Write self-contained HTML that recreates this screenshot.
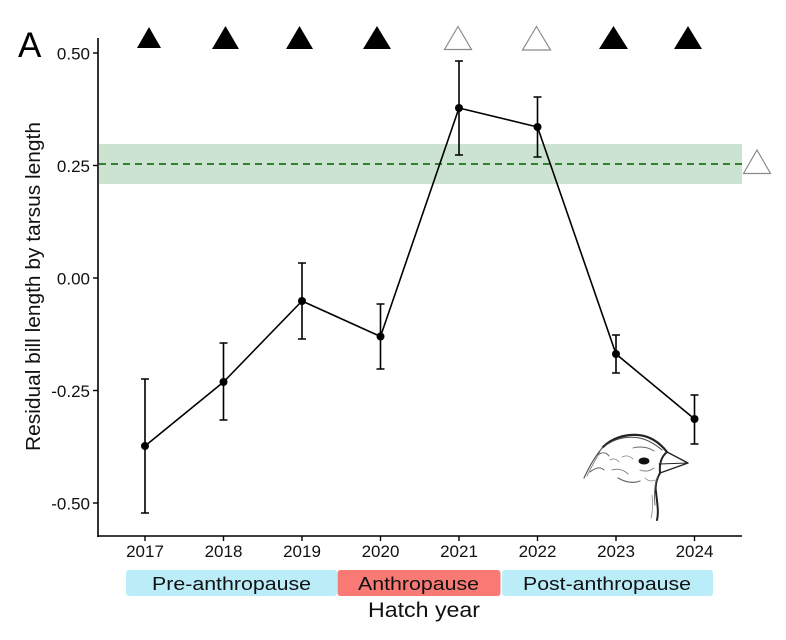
<!DOCTYPE html>
<html>
<head>
<meta charset="utf-8">
<style>
  html,body{margin:0;padding:0;background:#fff;}
  svg{display:block;}
  text{font-family:"Liberation Sans", Arial, sans-serif;}
</style>
</head>
<body>
<svg width="786" height="640" viewBox="0 0 786 640" xmlns="http://www.w3.org/2000/svg">
  <rect width="786" height="640" fill="#fff"/>

  <!-- Panel label -->
  <text x="18" y="57" font-size="35" fill="#000">A</text>

  <!-- Green reference band -->
  <rect x="99" y="144" width="643" height="40" fill="#cce3d1"/>
  <line x1="99" y1="164" x2="742" y2="164" stroke="#005f00" stroke-width="1.5" stroke-dasharray="7,5"/>

  <!-- Axes -->
  <line x1="98" y1="38" x2="98" y2="537" stroke="#000" stroke-width="1.6"/>
  <line x1="97.2" y1="536" x2="742" y2="536" stroke="#000" stroke-width="1.6"/>

  <!-- Y ticks -->
  <g stroke="#000" stroke-width="1.4">
    <line x1="93" y1="53" x2="98" y2="53"/>
    <line x1="93" y1="165.5" x2="98" y2="165.5"/>
    <line x1="93" y1="278" x2="98" y2="278"/>
    <line x1="93" y1="390.5" x2="98" y2="390.5"/>
    <line x1="93" y1="503" x2="98" y2="503"/>
  </g>
  <g font-size="17" fill="#111" text-anchor="end">
    <text x="90" y="59.5">0.50</text>
    <text x="90" y="172">0.25</text>
    <text x="90" y="284.5">0.00</text>
    <text x="90" y="397">-0.25</text>
    <text x="90" y="509.5">-0.50</text>
  </g>

  <!-- X ticks -->
  <g stroke="#000" stroke-width="1.4">
    <line x1="145" y1="536" x2="145" y2="541"/>
    <line x1="223.5" y1="536" x2="223.5" y2="541"/>
    <line x1="302" y1="536" x2="302" y2="541"/>
    <line x1="380.5" y1="536" x2="380.5" y2="541"/>
    <line x1="459" y1="536" x2="459" y2="541"/>
    <line x1="537.5" y1="536" x2="537.5" y2="541"/>
    <line x1="616" y1="536" x2="616" y2="541"/>
    <line x1="694.5" y1="536" x2="694.5" y2="541"/>
  </g>
  <g font-size="17" fill="#111" text-anchor="middle">
    <text x="145" y="557">2017</text>
    <text x="223.5" y="557">2018</text>
    <text x="302" y="557">2019</text>
    <text x="380.5" y="557">2020</text>
    <text x="459" y="557">2021</text>
    <text x="537.5" y="557">2022</text>
    <text x="616" y="557">2023</text>
    <text x="694.5" y="557">2024</text>
  </g>

  <!-- Y axis title -->
  <text transform="translate(40,286.5) rotate(-90)" font-size="20.5" fill="#111" text-anchor="middle" textLength="329" lengthAdjust="spacingAndGlyphs">Residual bill length by tarsus length</text>

  <!-- Error bars -->
  <g stroke="#000" stroke-width="1.6" fill="none">
    <path d="M145 379V513M141 379H149M141 513H149"/>
    <path d="M223.5 343V420M219.5 343H227.5M219.5 420H227.5"/>
    <path d="M302 263V339M298 263H306M298 339H306"/>
    <path d="M380.5 304V369M376.5 304H384.5M376.5 369H384.5"/>
    <path d="M459 61V155M455 61H463M455 155H463"/>
    <path d="M537.5 97V157M533.5 97H541.5M533.5 157H541.5"/>
    <path d="M616 335V373M612 335H620M612 373H620"/>
    <path d="M694.5 395V444M690.5 395H698.5M690.5 444H698.5"/>
  </g>

  <!-- Line -->
  <polyline points="145,446 223.5,382 302,301 380.5,336.5 459,108 537.5,127 616,354 694.5,419" fill="none" stroke="#000" stroke-width="1.6" stroke-linejoin="round"/>
  <g fill="#000">
    <circle cx="145" cy="446" r="4"/>
    <circle cx="223.5" cy="382" r="4"/>
    <circle cx="302" cy="301" r="4"/>
    <circle cx="380.5" cy="336.5" r="4"/>
    <circle cx="459" cy="108" r="4"/>
    <circle cx="537.5" cy="127" r="4"/>
    <circle cx="616" cy="354" r="4"/>
    <circle cx="694.5" cy="419" r="4"/>
  </g>

  <!-- Top triangles -->
  <g fill="#000">
    <polygon points="149,27 161,48 137,48"/>
    <polygon points="225.5,26 239,49 212,49"/>
    <polygon points="299.5,26 313,49 286,49"/>
    <polygon points="377,26 391,49 363,49"/>
    <polygon points="613.5,26 628,49 599,49"/>
    <polygon points="688,26 702,49 674,49"/>
  </g>
  <g fill="#fff" stroke="#8a8a8a" stroke-width="1.2">
    <polygon points="458,26.5 471.5,49.5 444.5,49.5"/>
    <polygon points="536.5,26.5 550.5,50 522.5,50"/>
    <polygon points="757,150 770.5,173.5 743.5,173.5"/>
  </g>

  <!-- Bird sketch -->
  <g fill="none" stroke="#222" stroke-linecap="round" stroke-linejoin="round">
    <path d="M603 447 C612 438 625 434 638 435 C650 436 660 443 667 452" stroke-width="2.2"/>
    <path d="M605 446 C614 439 624 436.5 636 437.5 C646 438.5 655 444 662 450" stroke-width="1" stroke="#444"/>
    <path d="M667 452 L688 463 L660 473" stroke-width="1.4"/>
    <path d="M659 464 L688 463" stroke-width="1"/>
    <path d="M667 452 C662 456 659 462 660 473" stroke-width="2"/>
    <path d="M660 473 C656 480 655 486 656 492 C657 502 659 512 657 520" stroke-width="2"/>
    <path d="M658 476 C654 485 654 495 655 505" stroke-width="0.9" stroke="#555"/>
    <path d="M603 447 C596 455 590 465 584 478" stroke-width="1.2" stroke="#555"/>
    <path d="M600 452 C595 460 591 468 587 476" stroke-width="0.8" stroke="#777"/>
    <path d="M598 455 C602 452 606 452 609 456" stroke-width="1" stroke="#666"/>
    <path d="M590 472 C595 468 600 466 604 470" stroke-width="1" stroke="#666"/>
    <path d="M618 478 C625 482 632 484 640 481" stroke-width="1.2" stroke="#666"/>
    <path d="M612 470 C618 468 624 470 628 474" stroke-width="0.9" stroke="#777"/>
    <path d="M633 448 C640 446 648 447 654 451" stroke-width="0.9" stroke="#666"/>
    <path d="M640 470 C645 472 650 471 654 468" stroke-width="0.9" stroke="#777"/>
    <path d="M622 457 C626 455 630 456 633 459" stroke-width="0.8" stroke="#888"/>
    <path d="M610 460 C613 458 617 459 619 462" stroke-width="0.8" stroke="#888"/>
    <path d="M645 478 C648 481 651 482 655 480" stroke-width="0.8" stroke="#888"/>
    <path d="M652 495 C653 503 653 511 651 518" stroke-width="0.8" stroke="#888"/>
  </g>
  <ellipse cx="644" cy="461" rx="5.5" ry="3.5" fill="#111"/>

  <!-- Period boxes -->
  <rect x="126" y="570" width="211" height="26" rx="3" fill="#bbedf9"/>
  <rect x="337.5" y="570" width="163" height="26" rx="3" fill="#f97a75"/>
  <rect x="502" y="570" width="211" height="26" rx="3" fill="#bbedf9"/>
  <g font-size="18" fill="#111">
    <text x="152" y="590" textLength="159" lengthAdjust="spacingAndGlyphs">Pre-anthropause</text>
    <text x="358" y="590" textLength="121" lengthAdjust="spacingAndGlyphs">Anthropause</text>
    <text x="523" y="590" textLength="168" lengthAdjust="spacingAndGlyphs">Post-anthropause</text>
  </g>

  <!-- X axis title -->
  <text x="368" y="617" font-size="21" fill="#111" textLength="112" lengthAdjust="spacingAndGlyphs">Hatch year</text>
</svg>
</body>
</html>
